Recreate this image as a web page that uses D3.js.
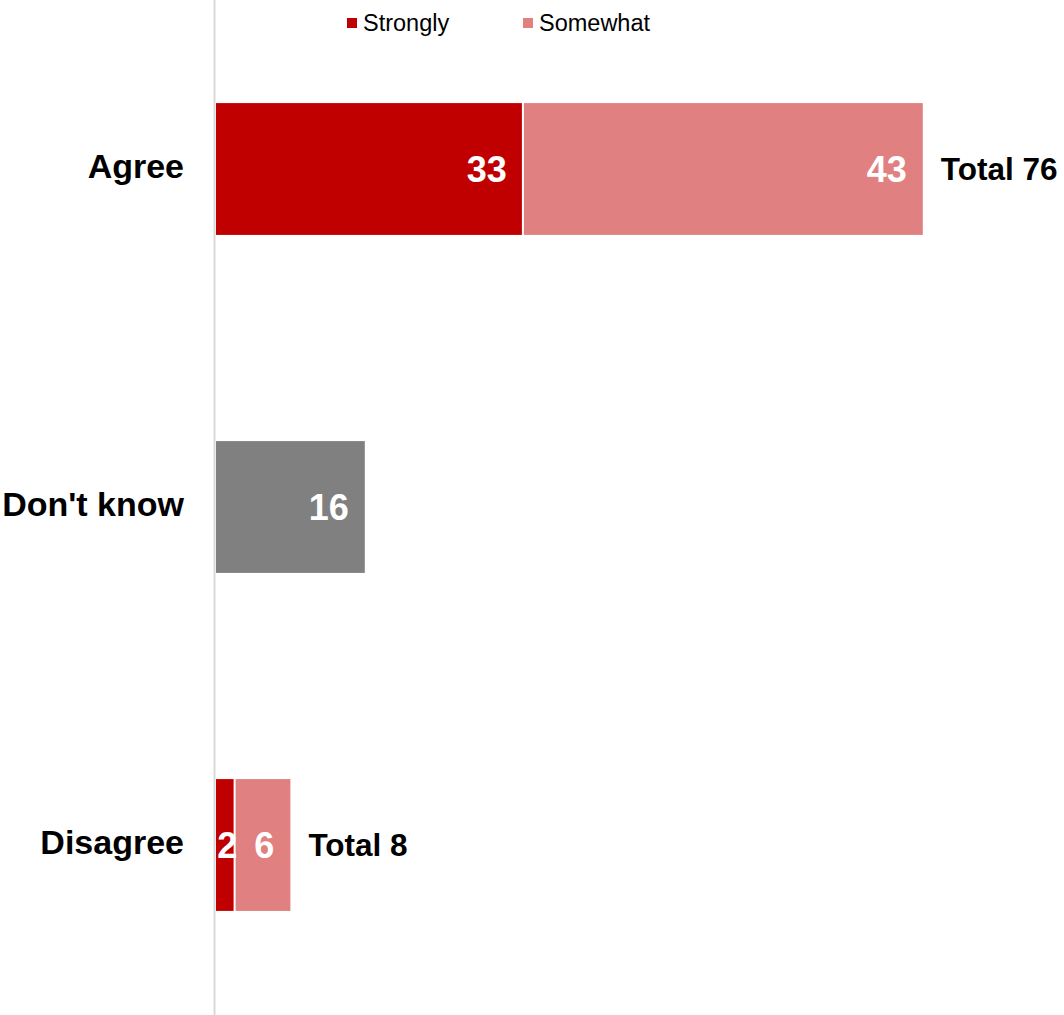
<!DOCTYPE html>
<html>
<head>
<meta charset="utf-8">
<script src="https://cdn.jsdelivr.net/npm/d3@7"></script>
<style>
  html, body { margin: 0; padding: 0; background: #fff; }
  svg { display: block; font-family: "Liberation Sans", Arial, sans-serif; }
</style>
</head>
<body>
<svg id="chart" width="1064" height="1015"></svg>
<script>
const categories = ["Agree", "Don't know", "Disagree"];
const seriesNames = ["Strongly", "Somewhat", "Don't know"];
const strongly = [33, null, 2];
const somewhat = [43, null, 6];
const dontKnow = [null, 16, null];
const totals = [76, null, 8];
const colors = ["#C00000", "#E08080", "#808080"];

const svg = d3.select("#chart");
const W = 1064, H = 1015;
const x0 = 216;

const x = d3.scaleLinear().domain([0, 100]).range([x0, x0 + 930]);
const y = d3.scaleBand().domain(categories).range([0, 1014]).paddingInner(0.61).paddingOuter(0.305);

// build segments
const segs = [];
categories.forEach((c, i) => {
  let acc = 0;
  [strongly[i], somewhat[i], dontKnow[i]].forEach((v, k) => {
    if (v == null) return;
    segs.push({cat: c, s: k, start: acc, end: acc + v, v});
    acc += v;
  });
});

// axis line
svg.append("line")
  .attr("x1", 214.5).attr("x2", 214.5)
  .attr("y1", 0).attr("y2", H)
  .attr("stroke", "#d9d9d9").attr("stroke-width", 2);

// bars
svg.append("g").selectAll("rect").data(segs).join("rect")
  .attr("x", d => x(d.start) + (d.start > 0 ? 1 : 0))
  .attr("width", d => x(d.end) - x(d.start) - (d.start > 0 ? 1 : 0) - (d.s === 0 && segs.some(e => e.cat === d.cat && e.start === d.end) ? 1 : 0))
  .attr("y", d => y(d.cat))
  .attr("height", y.bandwidth())
  .attr("fill", d => colors[d.s]);

// value labels
svg.append("g").selectAll("text").data(segs).join("text")
  .attr("x", d => {
    const w = x(d.end) - x(d.start);
    return w < 30 ? (x(d.start) + x(d.end)) / 2 + 2 : x(d.end) - 16;
  })
  .attr("text-anchor", d => (x(d.end) - x(d.start)) < 30 ? "middle" : "end")
  .attr("y", d => y(d.cat) + y.bandwidth() / 2)
  .attr("dy", "0.35em")
  .attr("fill", "#fff")
  .attr("font-weight", "bold")
  .attr("font-size", 36)
  .text(d => d.v);

// totals
svg.append("g").selectAll("text").data(categories.map((c, i) => ({c, t: totals[i]})).filter(d => d.t != null)).join("text")
  .attr("x", d => x(d.t) + 18)
  .attr("y", d => y(d.c) + y.bandwidth() / 2)
  .attr("dy", "0.35em")
  .attr("fill", "#000")
  .attr("font-weight", "bold")
  .attr("font-size", 31.5)
  .text(d => "Total " + d.t);

// category labels
const yAxis = d3.axisLeft(y).tickSize(0).tickPadding(0);
const ga = svg.append("g").attr("transform", `translate(184,0)`).call(yAxis);
ga.select(".domain").remove();
ga.selectAll("text")
  .attr("font-size", 34)
  .attr("font-weight", "bold")
  .attr("fill", "#000")
  .attr("font-family", "Liberation Sans, Arial, sans-serif")
  .attr("dy", "0.25em");

// legend
const legend = [{name: seriesNames[0], c: colors[0], x: 347}, {name: seriesNames[1], c: colors[1], x: 523}];
const lg = svg.append("g").selectAll("g").data(legend).join("g")
  .attr("transform", d => `translate(${d.x},0)`);
lg.append("rect").attr("x", 0).attr("y", 18).attr("width", 10).attr("height", 10).attr("fill", d => d.c);
lg.append("text").attr("x", 16).attr("y", 31).attr("font-size", 23.5).attr("fill", "#000").text(d => d.name);
</script>
</body>
</html>
